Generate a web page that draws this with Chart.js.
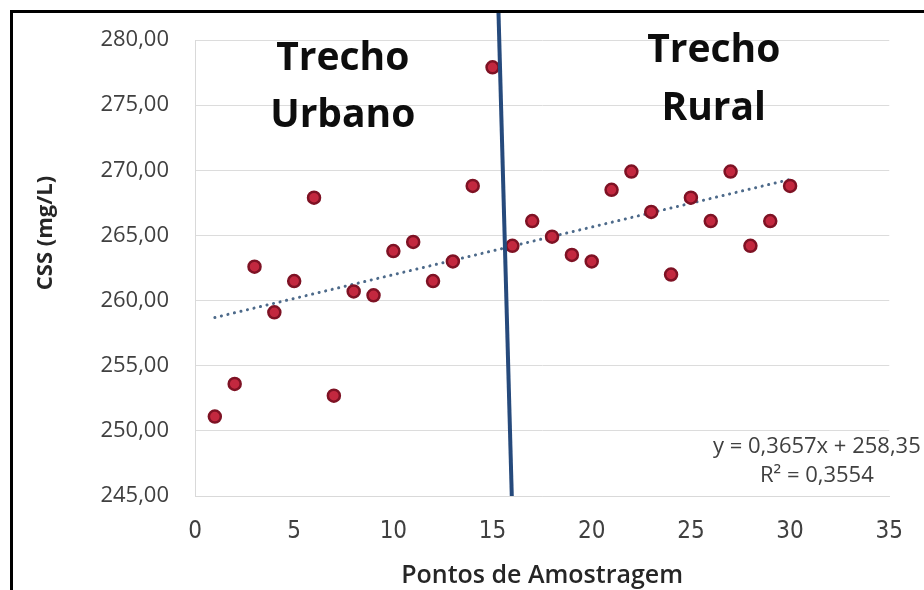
<!DOCTYPE html>
<html><head><meta charset="utf-8">
<script src="https://cdn.jsdelivr.net/npm/chart.js@4/dist/chart.umd.min.js"></script>
<style>
html,body{margin:0;padding:0;background:#fff;overflow:hidden;}
#wrap{position:relative;width:924px;height:590px;overflow:hidden;}
#frame{position:absolute;left:10px;top:10px;width:940px;height:620px;border-left:3px solid #000;border-top:3px solid #000;pointer-events:none;}
</style></head><body>
<div id="wrap"><canvas id="c" width="924" height="590"></canvas><div id="frame"></div></div>
<script>
// ---- data ----
const pontos = [1,2,3,4,5,6,7,8,9,10,11,12,13,14,15,16,17,18,19,20,21,22,23,24,25,26,27,28,29,30];
const cssValores = [251.1,253.6,262.6,259.1,261.5,267.9,252.7,260.7,260.4,263.8,264.5,261.5,263.0,268.8,277.9,
                    264.2,266.1,264.9,263.5,263.0,268.5,269.9,266.8,262.0,267.9,266.1,269.9,264.2,266.1,268.8];
const tendenciaX = [1, 30];
const tendenciaY = [258.7, 269.3];
const divisaoX = [15.3, 15.97];
const divisaoY = [282.1, 245];
const xTickValues = [0,5,10,15,20,25,30,35];
const yTickValues = [245,250,255,260,265,270,275,280];
const yTickLabels = ['245,00','250,00','255,00','260,00','265,00','270,00','275,00','280,00'];
const trechoUrbano = ['Trecho','Urbano'];
const trechoRural = ['Trecho','Rural'];
const equacao = ['y = 0,3657x + 258,35','R\u00B2 = 0,3554'];
const tituloY = 'CSS (mg/L)';
const tituloX = 'Pontos de Amostragem';

const pts = pontos.map((x,i)=>({x, y: cssValores[i]}));
const trend = tendenciaX.map((x,i)=>({x, y: tendenciaY[i]}));
const divisor = divisaoX.map((x,i)=>({x, y: divisaoY[i]}));

const textPlugin = {
  id: 'textos',
  afterDraw(chart){
    const ctx = chart.ctx, xs = chart.scales.x, ys = chart.scales.y;
    ctx.save();
    ctx.fillStyle = '#0d0d0d';
    ctx.font = 'bold 39px "Open Sans", sans-serif';
    ctx.textAlign = 'center';
    ctx.textBaseline = 'alphabetic';
    ctx.fillText(trechoUrbano[0], xs.getPixelForValue(7.45), ys.getPixelForValue(277.7));
    ctx.fillText(trechoUrbano[1], xs.getPixelForValue(7.45), ys.getPixelForValue(273.33));
    ctx.fillText(trechoRural[0], xs.getPixelForValue(26.15), ys.getPixelForValue(278.3));
    ctx.fillText(trechoRural[1], xs.getPixelForValue(26.15), ys.getPixelForValue(273.87));
    ctx.fillStyle = '#404040';
    ctx.font = '22px "Open Sans", sans-serif';
    ctx.fillText(equacao[0], xs.getPixelForValue(31.35), ys.getPixelForValue(248.3));
    ctx.fillText(equacao[1], xs.getPixelForValue(31.35), ys.getPixelForValue(246.1));
    // axis titles
    ctx.fillStyle = '#262626';
    ctx.font = '600 25px "Open Sans", sans-serif';
    ctx.textBaseline = 'middle';
    ctx.fillText(tituloX, (xs.left + xs.right)/2, 576);
    ctx.translate(46, 233);
    ctx.rotate(-Math.PI/2);
    ctx.font = 'bold 22px "Open Sans", sans-serif';
    ctx.fillText(tituloY, 0, 0);
    ctx.restore();
  }
};

new Chart(document.getElementById('c'), {
  type: 'scatter',
  data: {
    datasets: [
      { data: trend, showLine: true, pointRadius: 0, borderColor: '#4d6a8a', borderWidth: 3,
        borderDash: [0.1, 6.6], borderCapStyle: 'round', order: 2 },
      { data: pts, pointRadius: 6, pointHoverRadius: 6, backgroundColor: '#c3283f', borderColor: '#7e1224',
        borderWidth: 2.5, order: 1 },
      { data: divisor, showLine: true, pointRadius: 0, borderColor: '#264a7c', borderWidth: 4, clip: false, order: 0 }
    ]
  },
  options: {
    responsive: false, animation: false, devicePixelRatio: 1,
    layout: { padding: { left: 0, top: 40, right: 31, bottom: 0 } },
    plugins: { legend: { display: false }, tooltip: { enabled: false } },
    scales: {
      x: {
        type: 'linear', min: 0, max: 35,
        afterFit(s){ s.height = 94; },
        afterBuildTicks(s){ s.ticks = xTickValues.map(v=>({value:v})); },
        grid: { display: false, drawTicks: false },
        border: { display: true, color: '#d9d9d9', width: 1 },
        ticks: { padding: 21, color: '#404040', font: { family: '"Liberation Sans Narrow", "DejaVu Sans Condensed", sans-serif', size: 24 } }
      },
      y: {
        type: 'linear', min: 245, max: 280,
        afterFit(s){ s.width = 195; },
        afterBuildTicks(s){ s.ticks = yTickValues.map(v=>({value:v})); },
        grid: { color: '#dcdcdc', lineWidth: 1, drawTicks: false },
        border: { display: true, color: '#d9d9d9', width: 1 },
        ticks: { padding: 26, color: '#404040', font: { family: '"Open Sans", sans-serif', size: 22 },
          callback: (v)=> yTickLabels[yTickValues.indexOf(v)] }
      }
    }
  },
  plugins: [textPlugin]
});
</script>
</body></html>
